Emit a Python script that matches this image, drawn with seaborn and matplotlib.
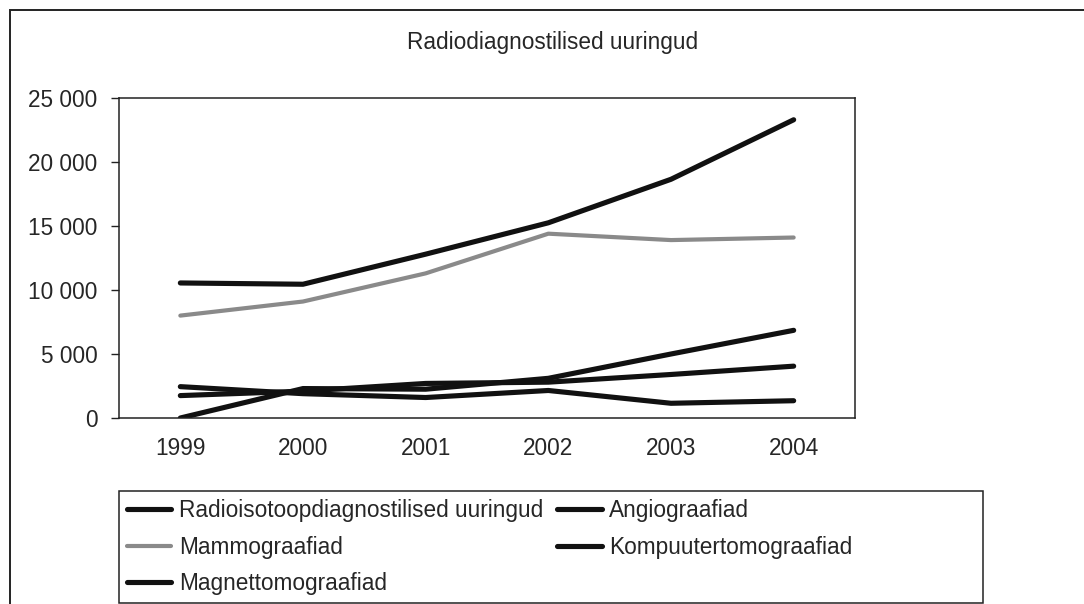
import pandas as pd
import matplotlib.pyplot as plt
import seaborn as sns
from matplotlib.patches import Rectangle
from matplotlib.ticker import FuncFormatter, FixedLocator

# Andmed (loetud jooniselt)
aastad = [1999, 2000, 2001, 2002, 2003, 2004]
radioisotoop = [10550, 10450, 12800, 15250, 18650, 23300]
angio = [2450, 1900, 1600, 2150, 1150, 1350]
mammo = [8000, 9100, 11300, 14400, 13900, 14100]
kompuuter = [1750, 2100, 2700, 2800, 3400, 4050]
magnet = [0, 2300, 2250, 3100, 5000, 6850]

sarjad = ['Radioisotoopdiagnostilised uuringud', 'Angiograafiad', 'Mammograafiad',
          'Kompuutertomograafiad', 'Magnettomograafiad']
vaartused = [radioisotoop, angio, mammo, kompuuter, magnet]

df = pd.DataFrame([
    {'aasta': a, 'sari': s, 'arv': v}
    for s, vals in zip(sarjad, vaartused)
    for a, v in zip(aastad, vals)
])

varvid = {s: '#111111' for s in sarjad}
varvid['Mammograafiad'] = '#8a8a8a'
paksused = {s: 3.7 for s in sarjad}
paksused['Mammograafiad'] = 3.0

FS = 16.3

sns.set_style('white')
plt.rcParams['font.family'] = ['Liberation Sans', 'DejaVu Sans']
plt.rcParams['font.size'] = FS

fig = plt.figure(figsize=(10.84, 6.04), dpi=100)
ax = fig.add_axes([119 / 1084, 1 - 418 / 604, 736 / 1084, 320 / 604])

sns.lineplot(data=df, x='aasta', y='arv', hue='sari', size='sari',
             palette=varvid, sizes=paksused, hue_order=sarjad, size_order=sarjad,
             ax=ax, legend=True)
for ln in ax.lines:
    ln.set_solid_capstyle('round')
    ln.set_solid_joinstyle('round')

# Teljed
ax.set_xlim(1998.5, 2004.5)
ax.set_ylim(0, 25000)
ax.set_xticks(aastad)
ax.set_xticklabels([str(a) for a in aastad])
ax.xaxis.set_minor_locator(FixedLocator([1998.5 + i for i in range(7)]))
ax.tick_params(axis='x', which='major', length=0, pad=14, labelsize=FS)
ax.tick_params(axis='x', which='minor', length=6, width=1, direction='out', color='#222')
ax.set_yticks(range(0, 25001, 5000))
ax.yaxis.set_major_formatter(FuncFormatter(lambda v, p: f'{int(v):,}'.replace(',', ' ')))
ax.tick_params(axis='y', length=6, width=1, direction='out', pad=9.5, color='#222',
               labelsize=FS, left=True)
ax.set_xlabel('')
ax.set_ylabel('')
for sp in ax.spines.values():
    sp.set_visible(True)
    sp.set_color('#222222')
    sp.set_linewidth(1.1)

# Pealkiri
fig.text(553 / 1084, 1 - 42 / 604, 'Radiodiagnostilised uuringud',
         ha='center', va='center', fontsize=FS)

# Legend (Excel'i järjekord ridade kaupa)
kasitsejad, sildid = ax.get_legend_handles_labels()
h = dict(zip(sildid, kasitsejad))
jarjekord = ['Radioisotoopdiagnostilised uuringud', 'Mammograafiad', 'Magnettomograafiad',
             'Angiograafiad', 'Kompuutertomograafiad']
ax.get_legend().remove()
leg = fig.legend([h[s] for s in jarjekord], jarjekord, ncol=2, frameon=False,
                 loc='upper left', bbox_to_anchor=(127 / 1084, 1 - 499 / 604),
                 borderpad=0, borderaxespad=0, handlelength=1.95, handletextpad=0.35,
                 columnspacing=0.62, labelspacing=0.6, fontsize=FS)
for lh in leg.get_lines():
    lh.set_solid_capstyle('round')
fig.patches.append(Rectangle((119 / 1084, 1 - 603 / 604), 864 / 1084, 112 / 604,
                             transform=fig.transFigure, fill=False,
                             edgecolor='#222222', linewidth=1.1))

# Diagrammiala raam
fig.patches.append(Rectangle((10 / 1084, -0.2), 1.2, 1.2 - 10 / 604,
                             transform=fig.transFigure, fill=False,
                             edgecolor='#222222', linewidth=1.4))

fig.savefig('out.png', dpi=100, facecolor='white')
